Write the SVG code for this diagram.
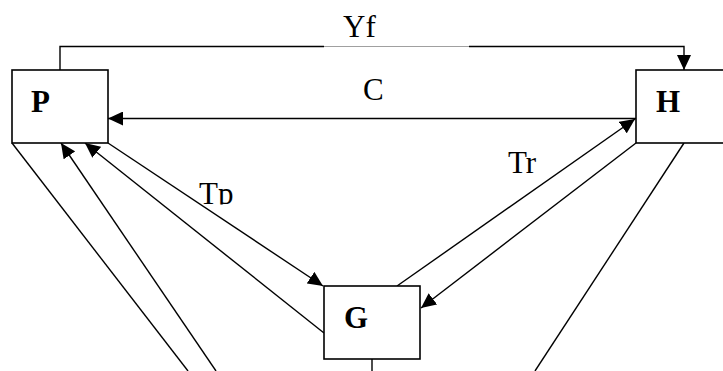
<svg xmlns="http://www.w3.org/2000/svg" width="723" height="371" viewBox="0 0 723 371">
<style>
.box{fill:#fff;stroke:#000;stroke-width:1.6}
.ln{fill:none;stroke:#000;stroke-width:1.4}
.lbl{font-family:"Liberation Serif","Times New Roman",serif;font-size:31px;fill:#000}
.nl{font-family:"Liberation Serif","Times New Roman",serif;font-size:31px;font-weight:bold;fill:#000}
</style>
<defs>
<marker id="ah" markerUnits="userSpaceOnUse" markerWidth="16" markerHeight="14" refX="15" refY="7" orient="auto">
<path d="M0,0 L15,7 L0,14 z" fill="#000"/>
</marker>
<clipPath id="tpclip"><rect x="190" y="170" width="60" height="34.5"/></clipPath>
</defs>
<rect width="723" height="371" fill="#fff"/>
<g id="connectors">
<polyline class="ln" points="60,70 60,46.5 324,46.5"/>
<line x1="324" y1="46.5" x2="469" y2="46.5" stroke="#888" stroke-width="0.8"/>
<polyline class="ln" points="469,46.5 684,46.5 684,70" marker-end="url(#ah)"/>
<line class="ln" x1="636" y1="118.5" x2="108" y2="118.5" marker-end="url(#ah)"/>
<line class="ln" x1="12" y1="143" x2="188" y2="371"/>
<line class="ln" x1="216" y1="371" x2="61" y2="143" marker-end="url(#ah)"/>
<line class="ln" x1="324" y1="333" x2="85" y2="143" marker-end="url(#ah)"/>
<line class="ln" x1="108" y1="143" x2="323" y2="286" marker-end="url(#ah)"/>
<line class="ln" x1="397" y1="286" x2="635" y2="119" marker-end="url(#ah)"/>
<line class="ln" x1="636" y1="143" x2="421" y2="308" marker-end="url(#ah)"/>
<line class="ln" x1="684" y1="143" x2="535" y2="371"/>
<line class="ln" x1="372" y1="359" x2="372" y2="371"/>
</g>
<g id="labels">
<text class="lbl" x="343" y="37">Yf</text>
<text class="lbl" x="363" y="100">C</text>
<text class="lbl" x="199" y="204" clip-path="url(#tpclip)">Tp</text>
<text class="lbl" x="508" y="173">Tr</text>
</g>
<g id="node-P">
<rect class="box" x="12" y="70" width="96" height="73"/>
<text class="nl" x="31" y="112">P</text>
</g>
<g id="node-H">
<rect class="box" x="636" y="70" width="96" height="73"/>
<text class="nl" x="656" y="112">H</text>
</g>
<g id="node-G">
<rect class="box" x="324" y="286" width="96" height="73"/>
<text class="nl" x="344" y="328">G</text>
</g>
</svg>
